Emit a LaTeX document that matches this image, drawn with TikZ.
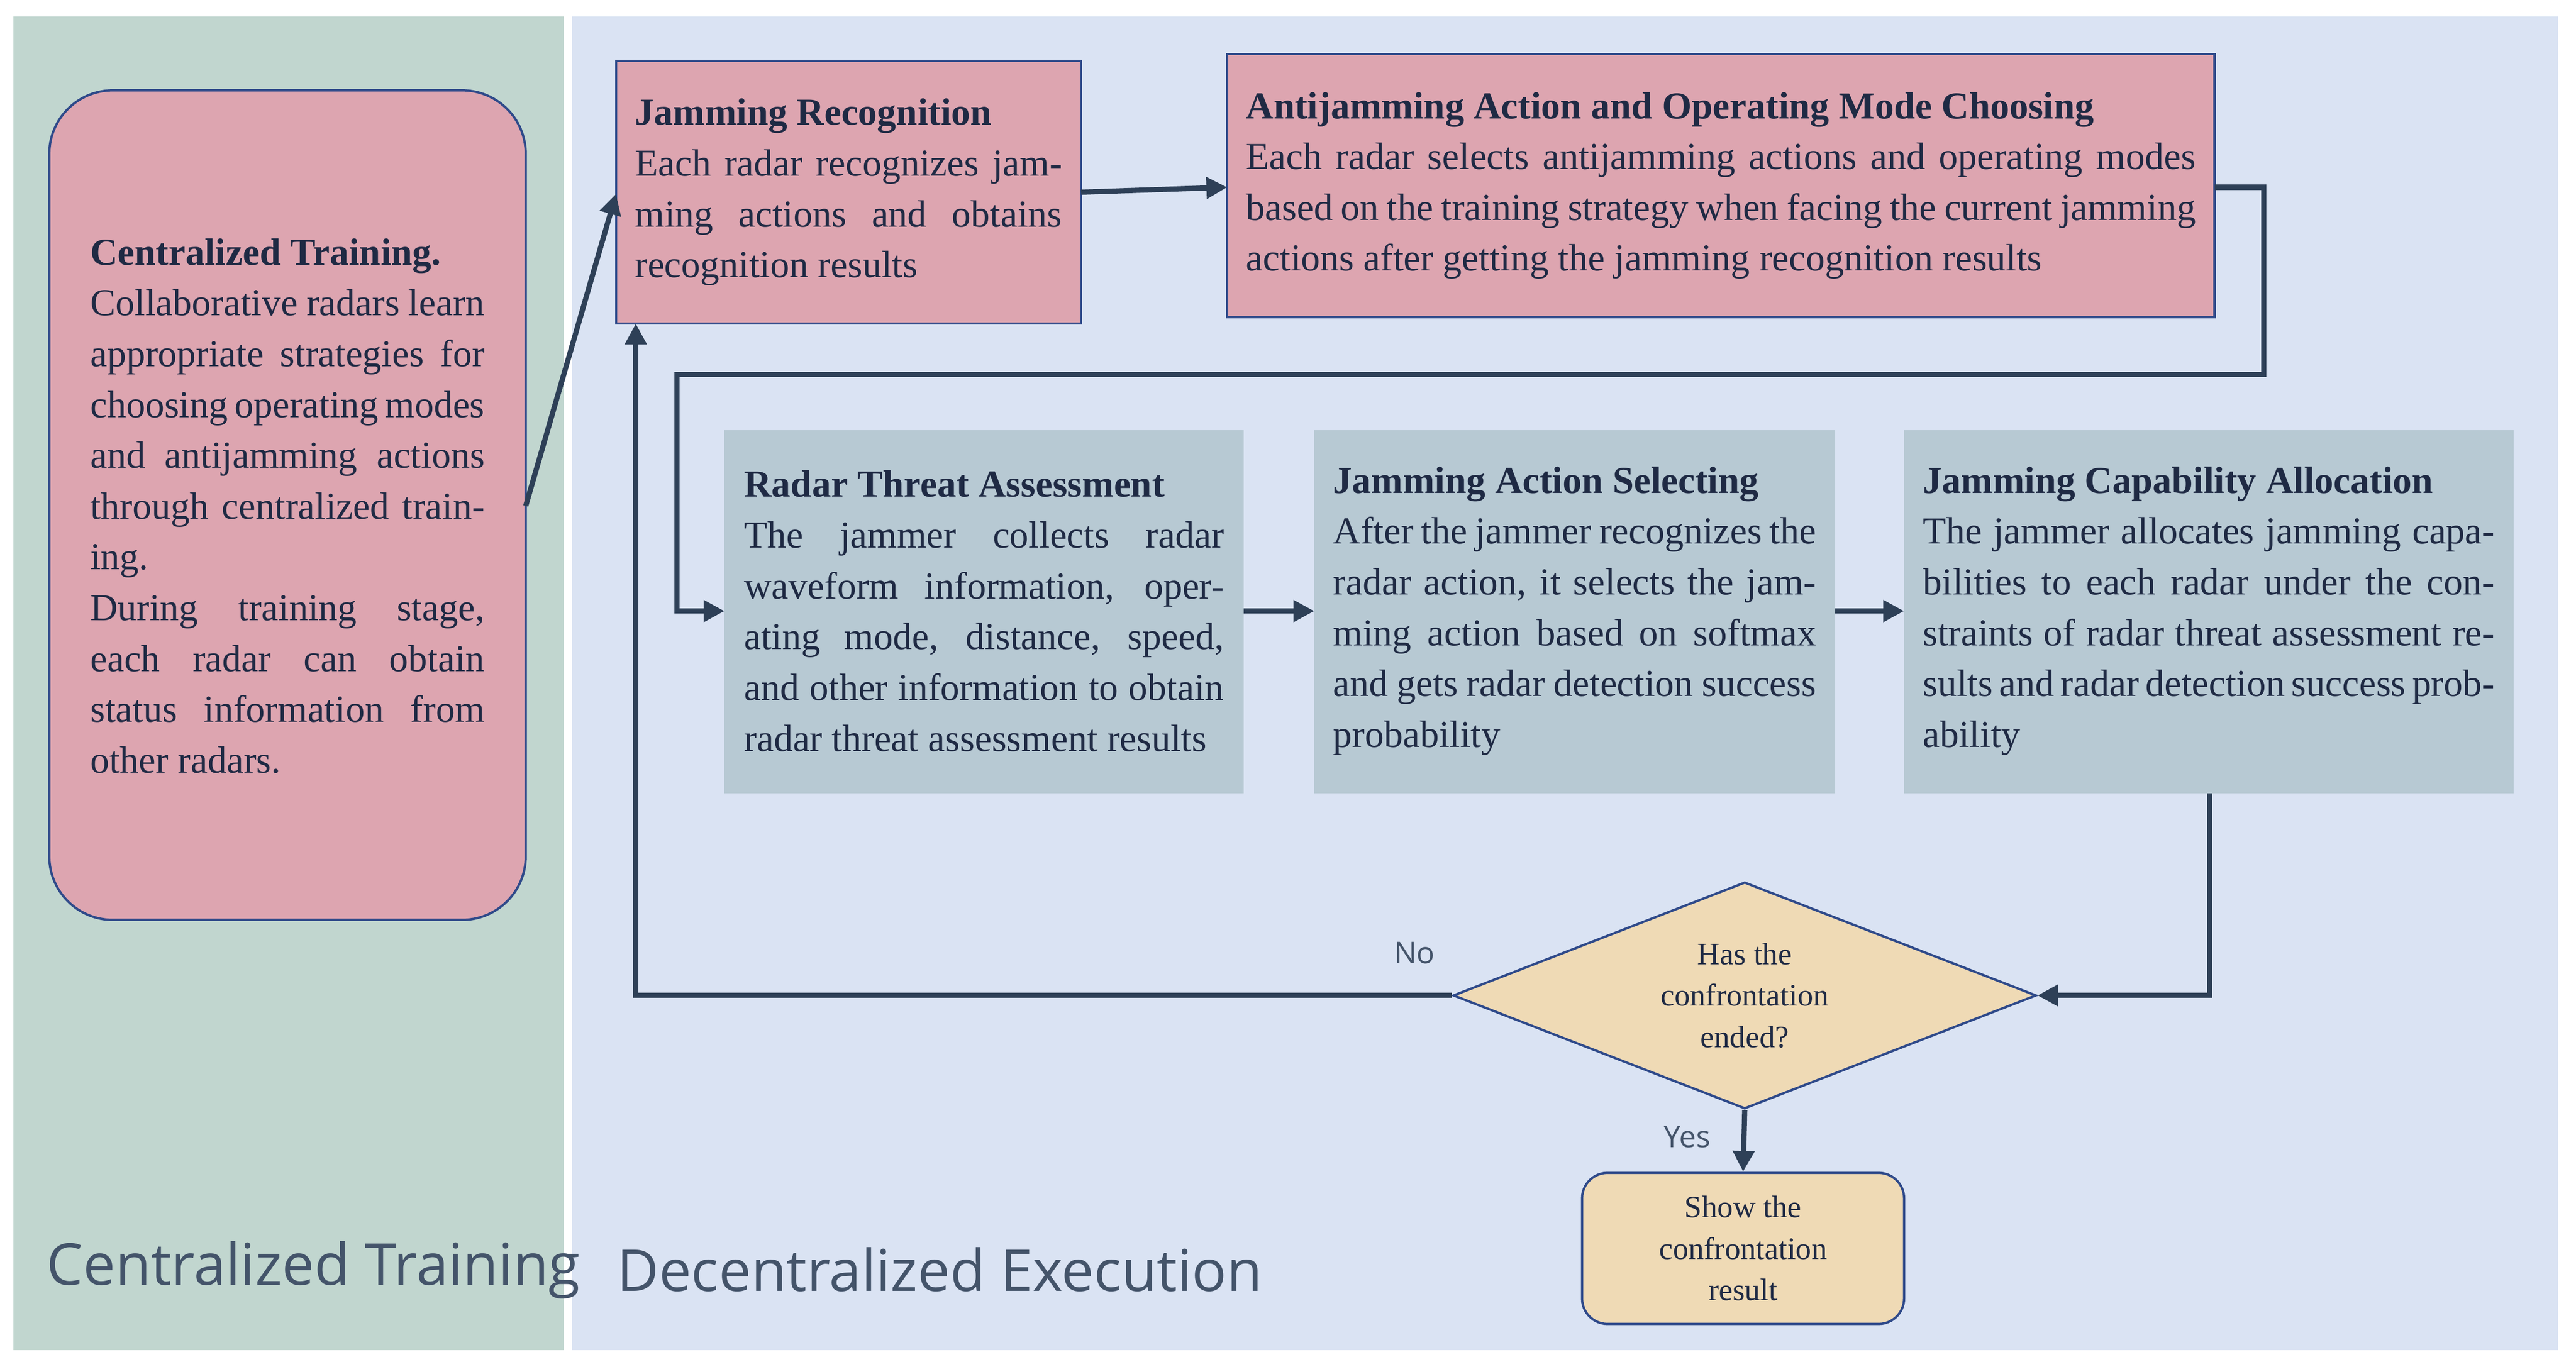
\documentclass[tikz,border=0pt]{standalone}
\usepackage{fontspec}
\setmainfont{Liberation Serif}
\newfontfamily\lab{Open Sans}
\usetikzlibrary{shapes.geometric,arrows.meta}
\definecolor{pinkf}{HTML}{DDA5B0}
\definecolor{bluef}{HTML}{B7C9D3}
\definecolor{tanf}{HTML}{EFDAB5}
\definecolor{bord}{HTML}{2F4A8A}
\definecolor{linec}{HTML}{2E4057}
\definecolor{leftp}{HTML}{C1D6CF}
\definecolor{rightp}{HTML}{DAE3F3}
\definecolor{txt}{HTML}{1F2A44}
\definecolor{labc}{HTML}{44546A}
\begin{document}
\begin{tikzpicture}[x=0.05cm,y=-0.05cm,
  body/.style={font=\fontsize{33}{44}\selectfont, text=txt, align=justify, inner sep=0pt},
  pbox/.style={draw=bord, line width=2pt, fill=pinkf},
  gbox/.style={fill=bluef},
  conn/.style={draw=linec, line width=4.5pt, -{Triangle[length=18pt,width=18pt]}},
  big/.style={font=\lab\fontsize{50}{60}\selectfont, text=labc, anchor=west}]
\useasboundingbox (0,0) rectangle (1568,829);
\fill[white] (0,0) rectangle (1568,829);
\fill[leftp] (8,10) rectangle (343,822);
\fill[rightp] (348,10) rectangle (1557,822);
\node[big] (lt) at (26,773) {Centralized Training};
\node[big] (rt) at (373,773) {Decentralized Execution};
% boxes
\draw[pbox, rounded corners=55pt] (30,55) rectangle (320,560);
\node[body, text width=12cm] (ct) at (175,308) {\textbf{Centralized Training.}\\ Collaborative radars learn appropriate strategies for choosing operating modes and antijamming actions through centralized training.\\ During training stage, each radar can obtain status information from other radars.};
\coordinate (ctr) at (320,308);
\draw[pbox] (375,37) rectangle (658,197);
\node[body, text width=13cm] (jr) at (516.5,117) {\textbf{Jamming Recognition}\\ Each radar recognizes jamming actions and obtains recognition results};
\draw[pbox] (747,33) rectangle (1348,193);
\node[body, text width=28.9cm] (aj) at (1047.5,113) {\textbf{Antijamming Action and Operating Mode Choosing}\\ Each radar selects antijamming actions and operating modes based on the training strategy when facing the current jamming actions after getting the jamming recognition results};
\fill[gbox] (441,262) rectangle (757,483);
\node[body, text width=14.6cm] (rta) at (599,372) {\textbf{Radar Threat Assessment}\\ The jammer collects radar waveform information, operating mode, distance, speed, and other information to obtain radar threat assessment results};
\fill[gbox] (800,262) rectangle (1117,483);
\node[body, text width=14.7cm] (jas) at (958.5,372) {\textbf{Jamming Action Selecting}\\ After the jammer recognizes the radar action, it selects the jamming action based on softmax and gets radar detection success probability};
\fill[gbox] (1159,262) rectangle (1530,483);
\node[body, text width=17.4cm] (jca) at (1344.5,372) {\textbf{Jamming Capability Allocation}\\ The jammer allocates jamming capabilities to each radar under the constraints of radar threat assessment results and radar detection success probability};
\node[diamond, draw=bord, line width=2pt, fill=tanf, minimum width=17.75cm, minimum height=6.9cm, inner sep=0pt, aspect=2.57, align=center, font=\fontsize{27}{36}\selectfont, text=txt] (d) at (1062,606) {Has the\\confrontation\\ended?};
\node[draw=bord, line width=2pt, fill=tanf, rounded corners=22pt, minimum width=9.8cm, minimum height=4.6cm, align=center, font=\fontsize{27}{36}\selectfont, text=txt] (res) at (1061,760) {Show the\\confrontation\\result};
\node[font=\lab\fontsize{26}{30}\selectfont, text=labc] (no) at (861,580) {No};
\node[font=\lab\fontsize{26}{30}\selectfont, text=labc] (yes) at (1027,692) {Yes};
% coordinates
\coordinate (jrl) at (375,118);
\coordinate (jrr) at (658,117);
\coordinate (ajl) at (747,114);
\coordinate (ajr) at (1348,114);
\coordinate (jrb) at (387,197);
\coordinate (rtal) at (441,372);
\coordinate (rtar) at (757,372);
\coordinate (jasl) at (800,372);
\coordinate (jasr) at (1117,372);
\coordinate (jcal) at (1159,372);
\coordinate (jcab) at (1345,483);
% connectors
\draw[conn] (ctr) -- (jrl);
\draw[conn] (jrr) -- (ajl);
\draw[conn, rounded corners=0pt] (ajr) -- (1378,114) -- (1378,228) -- (412,228) -- (412,372) -- (rtal);
\draw[conn] (rtar) -- (jasl);
\draw[conn] (jasr) -- (jcal);
\draw[conn] (jcab) -- (1345,606) -- (d.east);
\draw[conn] (d.west) -- (387,606) -- (jrb);
\draw[conn] (d.south) -- (res.north);
\end{tikzpicture}
\end{document}
